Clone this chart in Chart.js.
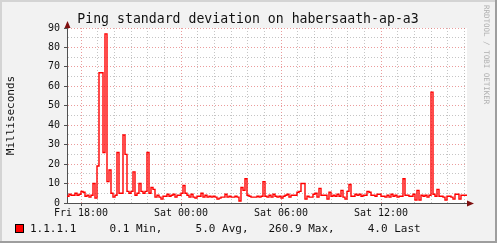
<!DOCTYPE html>
<html><head><meta charset="utf-8">
<script src="https://cdn.jsdelivr.net/npm/chart.js@4/dist/chart.umd.min.js"></script>
<style>html,body{margin:0;padding:0;background:#f2f2f2;} canvas{display:block;}</style>
</head><body>
<canvas id="c" width="497" height="243"></canvas>
<script>
const chartTitle = 'Ping standard deviation on habersaath-ap-a3';
const yAxisLabel = 'Milliseconds';
const legendText = '1.1.1.1     0.1 Min,     5.0 Avg,   260.9 Max,     4.0 Last';
const watermark = 'RRDTOOL / TOBI OETIKER';
const tickHours = [0, 6, 12, 18];
const tickLabels = ['Fri 18:00', 'Sat 00:00', 'Sat 06:00', 'Sat 12:00'];
const yTicks = [0, 10, 20, 30, 40, 50, 60, 70, 80, 90];
const startHour = -0.84;   // Fri 17:10
const stepHours = 0.12;
const values = [
  3.5, 4.5, 4, 4, 5, 4, 4.5, 6, 5.5, 3.5,
  4, 3, 4, 10, 2.5, 19, 67, 67, 26, 87,
  11, 17, 5, 3, 4, 26, 5, 5, 35, 25,
  6, 5, 6, 16, 4, 5, 10, 6, 5, 6,
  26, 5, 8, 7, 3, 4, 3, 2, 3.5, 3.5,
  4.5, 3.5, 4, 4.5, 3, 4, 4, 5, 9, 5,
  4, 3, 4.5, 3, 2.5, 3.5, 3.5, 5, 3, 4,
  3, 3.5, 3, 3.5, 3, 2, 2.5, 3, 3, 4.5,
  3, 3.5, 3, 3, 3.5, 3, 1, 8, 6.5, 12.5,
  4, 3.5, 3, 3, 3, 3.5, 3, 3.5, 11, 3.5,
  3, 4, 3, 4.5, 3.5, 3, 3.5, 2.5, 3.5, 4,
  4.5, 3, 4, 4, 4, 5.5, 6, 10, 10, 2,
  3.5, 3, 3, 4.5, 5, 3, 7.5, 4, 4, 4,
  2, 5.5, 3.5, 4, 3.5, 4.5, 3.5, 6.5, 3, 2,
  6, 9.5, 3.5, 3.5, 4.5, 4, 4.5, 3.5, 4, 4,
  6, 5.5, 4, 4, 3.5, 4.5, 4.5, 3.5, 3.5, 3,
  4, 3, 4.5, 3.5, 4, 3, 3.5, 3.5, 12.5, 4,
  4, 3.5, 3.5, 4.5, 1.5, 6.5, 1.5, 4, 3.5, 4,
  3, 4, 57, 4.5, 3.5, 7, 3.5, 3.5, 3, 1.5,
  3.5, 3.5, 3, 2, 4.5, 4.5, 2, 4, 4, 4
];

const points = values.map((v, i) => ({x: startHour + i * stepHours, y: v}));
points.push({x: startHour + values.length * stepHours, y: values[values.length - 1]});

const MONO = '"DejaVu Sans Mono", "Liberation Mono", monospace';
const MAJOR = 'rgba(222,90,90,0.6)';
const MINOR = 'rgba(140,140,140,0.5)';

const framePlugin = {
  id: 'frame',
  beforeDraw(chart) {
    const {ctx, width, height, chartArea: a} = chart;
    ctx.save();
    ctx.fillStyle = '#f2f2f2'; ctx.fillRect(0, 0, width, height);
    ctx.fillStyle = '#d4d4d4'; ctx.fillRect(0, 0, width, 2); ctx.fillRect(0, 0, 2, height);
    ctx.fillStyle = '#9e9e9e'; ctx.fillRect(0, height - 2, width, 2); ctx.fillRect(width - 2, 0, 2, height);
    ctx.fillStyle = '#ffffff'; ctx.fillRect(a.left, a.top, a.right - a.left, a.bottom - a.top);
    ctx.restore();
  },
  afterDraw(chart) {
    const {ctx, chartArea: a} = chart;
    ctx.save();
    // arrows
    ctx.fillStyle = '#7f1010';
    const ax = a.left + 0.5;
    ctx.beginPath(); ctx.moveTo(ax - 3, a.top); ctx.lineTo(ax + 3, a.top); ctx.lineTo(ax, a.top - 7); ctx.closePath(); ctx.fill();
    const ay = a.bottom + 0.5;
    ctx.strokeStyle = '#505050'; ctx.lineWidth = 1;
    ctx.beginPath(); ctx.moveTo(a.right, ay); ctx.lineTo(a.right + 3, ay); ctx.stroke();
    ctx.beginPath(); ctx.moveTo(a.right, ay - 3); ctx.lineTo(a.right, ay + 3); ctx.lineTo(a.right + 7, ay); ctx.closePath(); ctx.fill();
    // title
    ctx.fillStyle = '#111';
    ctx.font = '13.2px ' + MONO;
    ctx.textAlign = 'center'; ctx.textBaseline = 'alphabetic';
    ctx.fillText(chartTitle, 248, 23);
    // y label
    ctx.save();
    ctx.translate(11, (a.top + a.bottom) / 2);
    ctx.rotate(-Math.PI / 2);
    ctx.font = '11px ' + MONO;
    ctx.textBaseline = 'middle';
    ctx.fillText(yAxisLabel, 0, 0);
    ctx.restore();
    // watermark
    ctx.save();
    ctx.translate(486, 5);
    ctx.rotate(Math.PI / 2);
    ctx.fillStyle = '#b0b0b0';
    ctx.font = '7.5px ' + MONO;
    ctx.textAlign = 'left'; ctx.textBaseline = 'middle';
    ctx.fillText(watermark, 0, 0);
    ctx.restore();
    // legend
    ctx.fillStyle = '#ff0000';
    ctx.fillRect(15, 224, 9, 9);
    ctx.strokeStyle = '#000'; ctx.lineWidth = 1;
    ctx.strokeRect(15.5, 224.5, 8, 8);
    ctx.fillStyle = '#111';
    ctx.font = '11px ' + MONO;
    ctx.textAlign = 'left'; ctx.textBaseline = 'middle';
    ctx.fillText(legendText, 30, 229);
    ctx.restore();
  }
};

new Chart(document.getElementById('c'), {
  type: 'line',
  data: {
    datasets: [{
      label: '1.1.1.1',
      data: points,
      borderColor: '#ff0000',
      borderWidth: 1.4,
      stepped: 'before',
      pointRadius: 0,
      fill: false,
      tension: 0
    }]
  },
  options: {
    responsive: false,
    devicePixelRatio: 1,
    animation: false,
    layout: {padding: {left: 0, top: 28, right: 30, bottom: 0}},
    plugins: {legend: {display: false}, title: {display: false}, tooltip: {enabled: false}},
    scales: {
      x: {
        type: 'linear',
        min: startHour,
        max: startHour + values.length * stepHours,
        afterFit(s) { s.height = 40; },
        afterBuildTicks(s) {
          const t = [];
          for (let h = 0; h <= 23; h++) t.push({value: h});
          s.ticks = t;
        },
        border: {display: true, color: '#505050', width: 1, dash: [1, 2]},
        grid: {
          color: c => (c.tick && c.tick.value % 6 === 0) ? MAJOR : MINOR,
          drawTicks: true,
          tickLength: 3,
          tickColor: c => (c.tick && c.tick.value % 6 === 0) ? '#505050' : 'rgba(0,0,0,0)',
          tickBorderDash: []
        },
        ticks: {
          autoSkip: false, maxRotation: 0, padding: 1,
          color: '#111',
          font: {family: MONO, size: 10},
          callback: v => { const i = tickHours.indexOf(v); return i >= 0 ? tickLabels[i] : ''; }
        }
      },
      y: {
        type: 'linear',
        min: 0, max: 90,
        afterFit(s) { s.width = 67; },
        afterBuildTicks(s) {
          const t = [];
          for (let v = 0; v <= 90; v += 5) t.push({value: v});
          s.ticks = t;
        },
        border: {display: true, color: '#505050', width: 1, dash: [1, 2]},
        grid: {
          color: c => (c.tick && c.tick.value % 10 === 0) ? MAJOR : MINOR,
          drawTicks: true,
          tickLength: 3,
          tickColor: c => (c.tick && c.tick.value % 10 === 0) ? '#505050' : 'rgba(0,0,0,0)',
          tickBorderDash: []
        },
        ticks: {
          autoSkip: false, padding: 4,
          color: '#111',
          font: {family: MONO, size: 10},
          callback: v => yTicks.includes(v) ? String(v) : ''
        }
      }
    }
  },
  plugins: [framePlugin]
});
</script>
</body></html>
